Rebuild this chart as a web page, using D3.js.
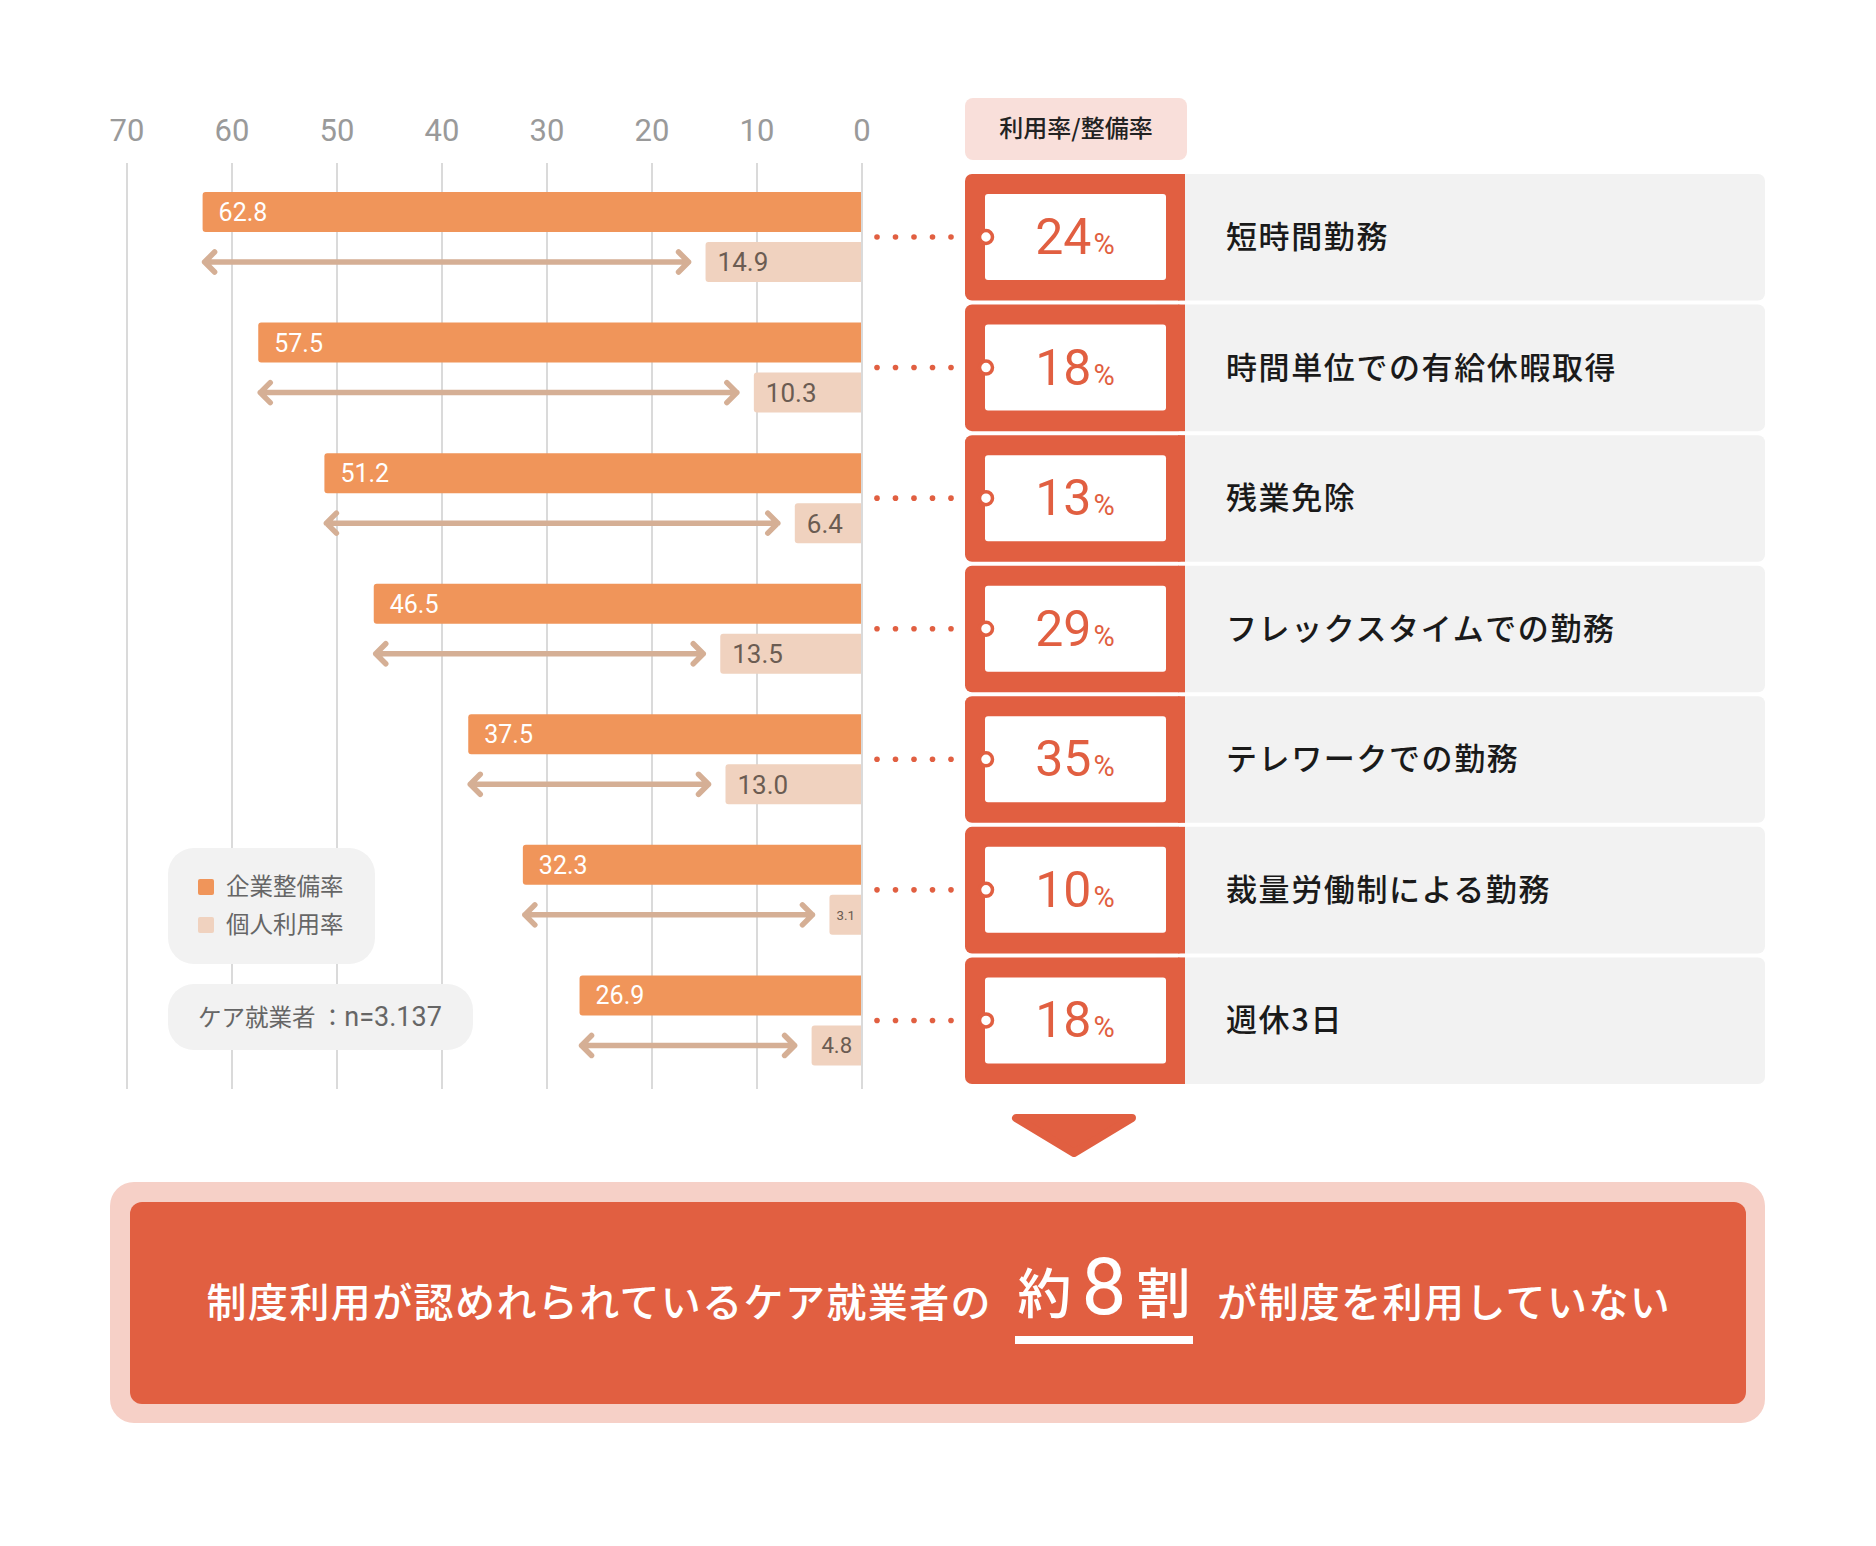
<!DOCTYPE html>
<html>
<head>
<meta charset="utf-8">
<title>制度利用率</title>
<style>
  body { margin: 0; background: #fff; }
  svg { display: block; }
  .jp { font-family: "Noto Sans CJK JP", "Noto Sans", sans-serif; }
  .num { font-family: "Liberation Sans Narrow", "Roboto", "Noto Sans", sans-serif; }
</style>
<script src="https://cdn.jsdelivr.net/npm/d3@7"></script>
</head>
<body>
<svg id="chart" width="1876" height="1546"></svg>
<script>
// data
var categories = ["短時間勤務", "時間単位での有給休暇取得", "残業免除", "フレックスタイムでの勤務",
                  "テレワークでの勤務", "裁量労働制による勤務", "週休3日"];
var corpRate  = [62.8, 57.5, 51.2, 46.5, 37.5, 32.3, 26.9];   // 企業整備率
var indivRate = [14.9, 10.3, 6.4, 13.5, 13.0, 3.1, 4.8];      // 個人利用率
var useRatio  = [24, 18, 13, 29, 35, 10, 18];                  // 利用率/整備率 (%)
var xTicks    = [70, 60, 50, 40, 30, 20, 10, 0];
var legendLabels = ["企業整備率", "個人利用率"];

var orange = "#f0955a", light = "#f0d2bf", arrowCol = "#d5af95",
    red = "#e15f41", grey = "#f2f2f2";

var svg = d3.select("#chart");

var x = d3.scaleLinear().domain([0, 70]).range([862, 127]);
var rowY = d3.scaleBand().domain(d3.range(categories.length)).range([174, 1084]).paddingInner(4 / 130);
var rowH = rowY.bandwidth();

// grid + ticks
svg.append("g").selectAll("line").data(xTicks).enter().append("line")
   .attr("x1", function(d) { return x(d); }).attr("x2", function(d) { return x(d); })
   .attr("y1", 163).attr("y2", 1089)
   .attr("stroke", "#dadada").attr("stroke-width", 2);

svg.append("g").selectAll("text").data(xTicks).enter().append("text")
   .attr("class", "num")
   .attr("x", function(d) { return x(d); }).attr("y", 141)
   .attr("text-anchor", "middle").attr("font-size", 31).attr("fill", "#9a9a9a")
   .text(function(d) { return d; });

// header
svg.append("rect").attr("x", 965).attr("y", 98).attr("width", 222).attr("height", 62)
   .attr("rx", 8).attr("fill", "#f9dfda");
svg.append("text").attr("class", "jp").attr("x", 1076).attr("y", 137)
   .attr("text-anchor", "middle").attr("font-size", 24).attr("font-weight", 500).attr("fill", "#222")
   .text("利用率/整備率");

var rows = svg.append("g").selectAll("g").data(categories).enter().append("g")
   .attr("transform", function(d, i) { return "translate(0," + rowY(i) + ")"; });

// bars
rows.append("rect")
   .attr("x", function(d, i) { return x(corpRate[i]); }).attr("y", 18)
   .attr("width", function(d, i) { return x(0) - x(corpRate[i]) + 3; }).attr("height", 40)
   .attr("rx", 3).attr("fill", orange);
rows.append("rect")
   .attr("x", function(d, i) { return x(indivRate[i]); }).attr("y", 68)
   .attr("width", function(d, i) { return x(0) - x(indivRate[i]) + 3; }).attr("height", 40)
   .attr("rx", 3).attr("fill", light);
// cover the overshoot past the 0 line
rows.append("rect").attr("x", 863).attr("y", 10).attr("width", 6).attr("height", 106).attr("fill", "#fff");
rows.append("line").attr("x1", 862).attr("x2", 862).attr("y1", 0).attr("y2", rowH + 4)
   .attr("stroke", "#dadada").attr("stroke-width", 2);

rows.append("text").attr("class", "num")
   .attr("x", function(d, i) { return x(corpRate[i]) + 16; }).attr("y", 47)
   .attr("font-size", 25).attr("fill", "#fff")
   .text(function(d, i) { return corpRate[i].toFixed(1); });

rows.append("text").attr("class", "num")
   .each(function(d, i) {
     var w = x(0) - x(indivRate[i]);
     var fs = Math.min(26, (w - 6) / 2);
     var t = d3.select(this).attr("font-size", fs).attr("y", 88 + fs * 0.36);
     if (w < 60) t.attr("x", x(indivRate[i]) + w / 2).attr("text-anchor", "middle");
     else t.attr("x", x(indivRate[i]) + 12);
   })
   .attr("fill", "#6b5c52")
   .text(function(d, i) { return indivRate[i].toFixed(1); });

// double arrows
rows.each(function(d, i) {
  var g = d3.select(this);
  var x1 = x(corpRate[i]) + 2, x2 = x(indivRate[i]) - 17, y = 88, a = 10;
  g.append("path")
   .attr("d", "M" + x1 + "," + y + "H" + x2 +
              "M" + (x1 + a) + "," + (y - a) + "L" + x1 + "," + y + "L" + (x1 + a) + "," + (y + a) +
              "M" + (x2 - a) + "," + (y - a) + "L" + x2 + "," + y + "L" + (x2 - a) + "," + (y + a))
   .attr("fill", "none").attr("stroke", arrowCol).attr("stroke-width", 5.5)
   .attr("stroke-linecap", "round").attr("stroke-linejoin", "round");
});

// dotted connector
rows.selectAll("circle.dot").data(d3.range(5)).enter().append("circle")
   .attr("class", "dot").attr("cx", function(k) { return 877 + k * 18.5; }).attr("cy", 63)
   .attr("r", 2.8).attr("fill", red);

// right hand panel
rows.append("rect").attr("x", 1150).attr("y", 0).attr("width", 615).attr("height", rowH)
   .attr("rx", 7).attr("fill", grey);
rows.append("rect").attr("x", 965).attr("y", 0).attr("width", 220).attr("height", rowH)
   .attr("rx", 7).attr("fill", red);
rows.append("rect").attr("x", 1178).attr("y", 0).attr("width", 7).attr("height", rowH).attr("fill", red);
rows.append("rect").attr("x", 985).attr("y", 20).attr("width", 181).attr("height", 86)
   .attr("rx", 3).attr("fill", "#fff");
rows.append("circle").attr("cx", 986).attr("cy", 63).attr("r", 6.5)
   .attr("fill", "#fff").attr("stroke", red).attr("stroke-width", 3.5);

var pct = rows.append("text").attr("x", 1075).attr("y", 80).attr("text-anchor", "middle").attr("fill", red);
pct.append("tspan").attr("class", "num").attr("font-size", 50)
   .text(function(d, i) { return useRatio[i]; });
pct.append("tspan").attr("class", "num").attr("font-size", 29).attr("dx", 2).text("%");

rows.append("text").attr("class", "jp").attr("x", 1226).attr("y", 74)
   .attr("font-size", 31).attr("font-weight", 500).attr("letter-spacing", 1.6).attr("fill", "#1a1a1a")
   .text(function(d) { return d; });

// legend
svg.append("rect").attr("x", 168).attr("y", 848).attr("width", 207).attr("height", 116)
   .attr("rx", 26).attr("fill", grey);
var lg = svg.append("g").selectAll("g").data(legendLabels).enter().append("g")
   .attr("transform", function(d, i) { return "translate(0," + (887 + i * 38) + ")"; });
lg.append("rect").attr("x", 198).attr("y", -8).attr("width", 16).attr("height", 16).attr("rx", 2)
   .attr("fill", function(d, i) { return i === 0 ? orange : light; });
lg.append("text").attr("class", "jp").attr("x", 226).attr("y", 8)
   .attr("font-size", 23.5).attr("fill", "#666").text(function(d) { return d; });

svg.append("rect").attr("x", 168).attr("y", 984).attr("width", 305).attr("height", 66)
   .attr("rx", 26).attr("fill", grey);
var nt = svg.append("text").attr("x", 198).attr("y", 1026).attr("fill", "#666");
nt.append("tspan").attr("class", "jp").attr("font-size", 23.5).text("ケア就業者 ：");
nt.append("tspan").attr("class", "num").attr("font-size", 27).text("n=3.137");

// down arrow
svg.append("path").attr("d", "M1016,1118 L1132,1118 L1074,1153 Z")
   .attr("fill", red).attr("stroke", red).attr("stroke-width", 8).attr("stroke-linejoin", "round");

// conclusion box
svg.append("rect").attr("x", 110).attr("y", 1182).attr("width", 1655).attr("height", 241)
   .attr("rx", 24).attr("fill", "#f6d0c7");
svg.append("rect").attr("x", 130).attr("y", 1202).attr("width", 1616).attr("height", 202)
   .attr("rx", 12).attr("fill", red);

svg.append("text").attr("class", "jp").attr("x", 992).attr("y", 1317)
   .attr("text-anchor", "end").attr("font-size", 40).attr("font-weight", 500)
   .attr("letter-spacing", 1.4).attr("fill", "#fff")
   .text("制度利用が認めれられているケア就業者の");
var em = svg.append("text").attr("x", 1104).attr("y", 1314).attr("text-anchor", "middle").attr("fill", "#fff");
em.append("tspan").attr("class", "jp").attr("font-size", 54).attr("font-weight", 500).text("約");
em.append("tspan").attr("class", "num").attr("font-size", 80).attr("dx", 10).text("8");
em.append("tspan").attr("class", "jp").attr("font-size", 54).attr("font-weight", 500).attr("dx", 10).text("割");
svg.append("rect").attr("x", 1015).attr("y", 1336).attr("width", 178).attr("height", 8).attr("fill", "#fff");
svg.append("text").attr("class", "jp").attr("x", 1217).attr("y", 1317)
   .attr("font-size", 40).attr("font-weight", 500).attr("letter-spacing", 1.4).attr("fill", "#fff")
   .text("が制度を利用していない");
</script>
</body>
</html>
